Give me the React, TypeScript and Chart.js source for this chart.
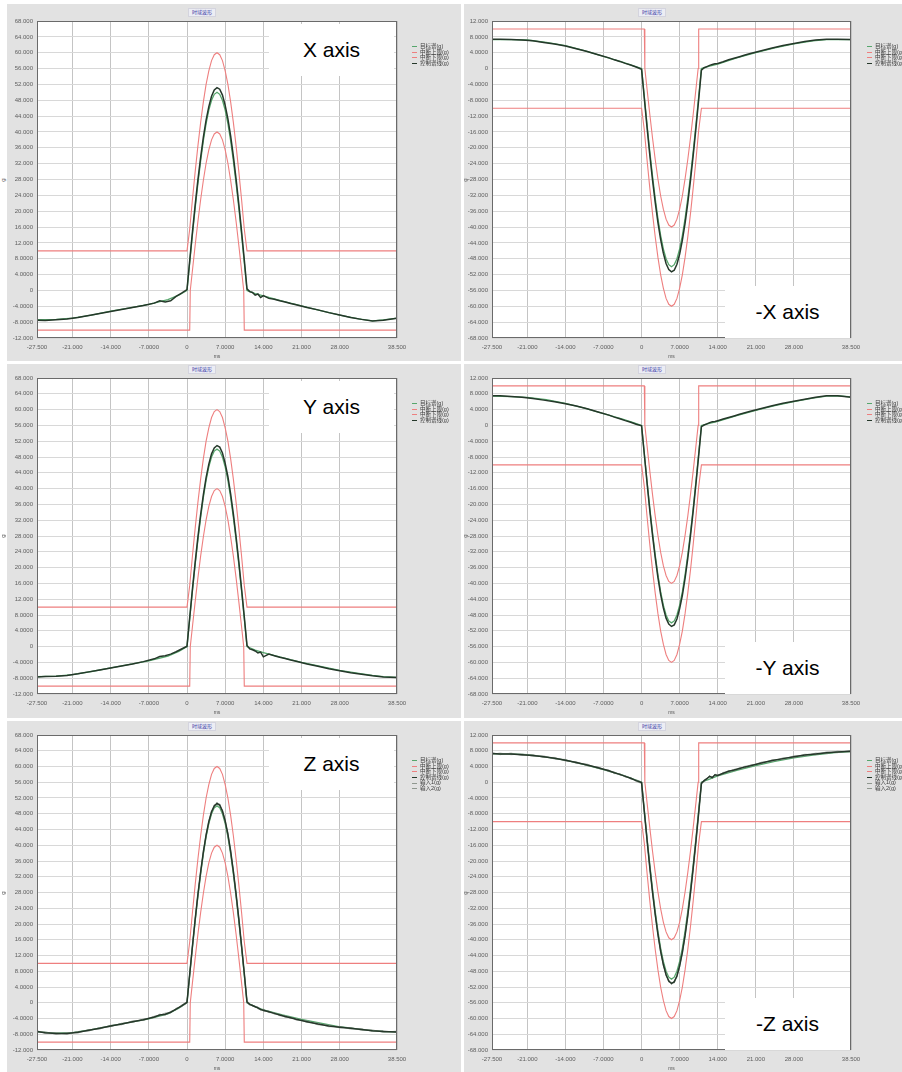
import React, { useEffect, useRef } from "react";
import { Chart, registerables } from "chart.js";
Chart.register(...registerables);

// ---------------- data ----------------
const X_TICKS = [-27.5, -21, -14, -7, 0, 7, 14, 21, 28, 38.5];
const X_TICK_LABELS = ["-27.500", "-21.000", "-14.000", "-7.0000", "0", "7.0000", "14.000", "21.000", "28.000", "38.500"];

const POS_Y_TICKS = [68, 64, 60, 56, 52, 48, 44, 40, 36, 32, 28, 24, 20, 16, 12, 8, 4, 0, -4, -8, -12];
const POS_Y_LABELS = ["68.000", "64.000", "60.000", "56.000", "52.000", "48.000", "44.000", "40.000", "36.000", "32.000", "28.000", "24.000", "20.000", "16.000", "12.000", "8.0000", "4.0000", "0", "-4.0000", "-8.0000", "-12.000"];
const NEG_Y_TICKS = [12, 8, 4, 0, -4, -8, -12, -16, -20, -24, -28, -32, -36, -40, -44, -48, -52, -56, -60, -64, -68];
const NEG_Y_LABELS = ["12.000", "8.0000", "4.0000", "0", "-4.0000", "-8.0000", "-12.000", "-16.000", "-20.000", "-24.000", "-28.000", "-32.000", "-36.000", "-40.000", "-44.000", "-48.000", "-52.000", "-56.000", "-60.000", "-64.000", "-68.000"];

const LEGEND_BASE = ["目标谱(g)", "中断上限(g)", "中断下限(g)", "控制谱线(g)"];
const LEGEND_EXTRA = ["输入1(g)", "输入2(g)"];
const TITLE = "时域波形";

// reference (target) time base, ms
const REF_T = [-27.5, -24, -21, -17.5, -14, -10.5, -7, -3.5, -1.5,
  0, 0.5, 1, 1.5, 2, 2.5, 3, 3.5, 4, 4.5, 5, 5.5, 6, 6.5, 7, 7.5, 8, 8.5, 9, 9.5, 10, 10.5, 11,
  12.5, 14, 17.5, 21, 24.5, 28, 31.5, 34, 36, 38.5];

const REF_X = [-7.4, -7.3, -7.0, -6.2, -5.2, -4.4, -3.5, -2.3, -1.2,
  0, 7.1, 14.1, 20.8, 27.0, 32.7, 37.8, 42.1, 45.5, 48.0, 49.5, 50.0, 49.5, 48.0, 45.5, 42.1, 37.8, 32.7, 27.0, 20.8, 14.1, 7.1, 0,
  -0.8, -1.4, -2.7, -3.9, -5.1, -6.2, -7.2, -7.7, -7.4, -7.0];
const REF_Y = [-7.6, -7.5, -7.1, -6.3, -5.4, -4.5, -3.6, -2.4, -1.2,
  0, 7.1, 14.1, 20.8, 27.0, 32.7, 37.8, 42.1, 45.5, 48.0, 49.5, 50.0, 49.5, 48.0, 45.5, 42.1, 37.8, 32.7, 27.0, 20.8, 14.1, 7.1, 0,
  -0.9, -1.5, -2.8, -4.0, -5.0, -6.0, -6.8, -7.3, -7.6, -7.8];
const REF_Z = [-7.4, -7.7, -7.6, -6.8, -5.9, -5.0, -4.1, -2.8, -1.4,
  0, 7.1, 14.1, 20.8, 27.0, 32.7, 37.8, 42.1, 45.5, 48.0, 49.5, 50.0, 49.5, 48.0, 45.5, 42.1, 37.8, 32.7, 27.0, 20.8, 14.1, 7.1, 0,
  -1.0, -1.8, -3.1, -4.2, -5.2, -6.1, -6.7, -7.1, -7.3, -7.4];
const REF_NX = [7.3, 7.3, 7.2, 6.6, 5.8, 4.5, 3.1, 1.6, 0.7,
  0, -7.1, -14.1, -20.8, -27.0, -32.7, -37.8, -42.1, -45.5, -48.0, -49.5, -50.0, -49.5, -48.0, -45.5, -42.1, -37.8, -32.7, -27.0, -20.8, -14.1, -7.1, 0,
  0.6, 1.1, 2.7, 4.0, 5.2, 6.2, 7.0, 7.3, 7.3, 7.3];
const REF_NY = [7.4, 7.3, 7.1, 6.5, 5.6, 4.4, 3.0, 1.6, 0.7,
  0, -7.1, -14.1, -20.8, -27.0, -32.7, -37.8, -42.1, -45.5, -48.0, -49.5, -50.0, -49.5, -48.0, -45.5, -42.1, -37.8, -32.7, -27.0, -20.8, -14.1, -7.1, 0,
  0.5, 1.0, 2.5, 3.8, 5.0, 6.0, 6.9, 7.4, 7.5, 7.2];
const REF_NZ = [7.2, 7.2, 7.0, 6.4, 5.6, 4.5, 3.2, 1.8, 0.8,
  0, -7.1, -14.1, -20.8, -27.0, -32.7, -37.8, -42.1, -45.5, -48.0, -49.5, -50.0, -49.5, -48.0, -45.5, -42.1, -37.8, -32.7, -27.0, -20.8, -14.1, -7.1, 0,
  0.8, 1.6, 3.0, 4.2, 5.3, 6.2, 6.9, 7.3, 7.6, 7.8];

// measured (control) time base, ms
const CTRL_T = [-27.5, -26, -24, -22, -20, -18, -16, -14, -12, -10, -8, -6, -5, -4, -3, -2, -1,
  0, 0.5, 1, 1.5, 2, 2.5, 3, 3.5, 4, 4.5, 5, 5.5, 6, 6.5, 7, 7.5, 8, 8.5, 9, 9.5, 10, 10.5, 11,
  11.5, 12, 12.5, 13, 13.5, 14, 15, 16, 17, 18, 19, 20, 22, 24, 26, 28, 30, 32, 34, 36, 38.5];

const CTRL_X = [-7.5, -7.6, -7.4, -7.2, -6.8, -6.3, -5.8, -5.3, -4.8, -4.3, -3.8, -3.2, -2.6, -2.9, -2.6, -1.5, -0.7,
  0.2, 7.6, 14.8, 21.6, 27.9, 33.6, 38.7, 43.0, 46.4, 49.0, 50.6, 51.2, 50.8, 49.3, 46.7, 43.3, 39.0, 33.9, 28.1, 21.8, 15.0, 7.8, 0.4,
  -0.3, -0.5, -1.2, -0.9, -1.8, -1.3, -2.0, -2.2, -2.6, -2.9, -3.3, -3.6, -4.3, -4.9, -5.6, -6.2, -6.8, -7.3, -7.7, -7.5, -7.0];
const CTRL_Y = [-7.7, -7.6, -7.5, -7.3, -6.9, -6.4, -5.9, -5.4, -4.9, -4.4, -3.8, -3.1, -2.5, -2.3, -1.9, -1.3, -0.6,
  0.1, 7.4, 14.6, 21.4, 27.7, 33.4, 38.5, 42.8, 46.2, 48.8, 50.3, 50.9, 50.5, 49.0, 46.4, 43.0, 38.7, 33.6, 27.8, 21.5, 14.7, 7.6, 0.3,
  -0.6, -0.8, -1.1, -1.6, -1.4, -2.6, -1.9, -2.3, -2.7, -3.0, -3.4, -3.7, -4.4, -5.0, -5.6, -6.1, -6.6, -7.0, -7.4, -7.7, -7.8];
const CTRL_Z = [-7.3, -7.6, -7.8, -7.8, -7.5, -7.0, -6.5, -5.9, -5.4, -4.8, -4.3, -3.6, -3.1, -2.9, -2.4, -1.6, -0.8,
  0.1, 7.3, 14.4, 21.2, 27.5, 33.2, 38.3, 42.6, 46.0, 48.5, 50.0, 50.6, 50.2, 48.7, 46.2, 42.8, 38.5, 33.4, 27.6, 21.3, 14.5, 7.5, 0.2,
  -0.4, -0.7, -1.0, -1.3, -1.7, -1.9, -2.3, -2.7, -3.1, -3.5, -3.8, -4.2, -4.8, -5.4, -5.9, -6.2, -6.5, -6.8, -7.1, -7.3, -7.4];
const IN1_Z = [-7.1, -7.8, -7.6, -8.0, -7.3, -7.2, -6.3, -6.1, -5.2, -5.0, -4.1, -3.8, -2.9, -3.2, -2.2, -1.8, -0.6,
  0.3, 7.0, 14.7, 20.9, 27.8, 32.9, 38.6, 42.3, 46.3, 48.2, 50.3, 50.3, 50.5, 48.4, 46.5, 42.5, 38.8, 33.1, 27.9, 21.0, 14.8, 7.2, 0.5,
  -0.2, -0.9, -0.8, -1.6, -1.5, -2.2, -2.1, -2.9, -2.9, -3.7, -3.6, -4.4, -4.6, -5.6, -5.7, -6.4, -6.3, -7.0, -6.9, -7.5, -7.2];
const IN2_Z = [-7.5, -7.4, -8.0, -7.6, -7.7, -6.8, -6.7, -5.7, -5.6, -4.6, -4.5, -3.4, -3.3, -2.6, -2.6, -1.4, -1.0,
  -0.1, 7.6, 14.1, 21.5, 27.2, 33.5, 38.0, 42.9, 45.7, 48.8, 49.7, 50.9, 49.9, 49.0, 45.9, 43.1, 38.2, 33.7, 27.3, 21.6, 14.2, 7.8, -0.1,
  -0.6, -0.5, -1.2, -1.0, -1.9, -1.6, -2.5, -2.5, -3.3, -3.3, -4.0, -4.0, -5.0, -5.2, -6.1, -6.0, -6.7, -6.6, -7.3, -7.1, -7.6];

const CTRL_NX = [7.4, 7.4, 7.3, 7.2, 7.0, 6.6, 6.2, 5.7, 5.0, 4.3, 3.5, 2.7, 2.2, 1.8, 1.3, 0.9, 0.4,
  -0.2, -7.5, -14.8, -21.7, -28.0, -33.7, -38.8, -43.1, -46.6, -49.2, -50.7, -51.3, -50.9, -49.4, -46.8, -43.3, -39.0, -33.9, -28.1, -21.8, -15.0, -7.8, -0.4,
  0.2, 0.5, 0.8, 1.0, 1.2, 1.3, 1.7, 2.2, 2.6, 3.0, 3.4, 3.8, 4.5, 5.2, 5.8, 6.3, 6.8, 7.2, 7.4, 7.4, 7.3];
const CTRL_NY = [7.5, 7.5, 7.3, 7.1, 6.8, 6.4, 6.0, 5.5, 4.9, 4.2, 3.4, 2.6, 2.1, 1.7, 1.2, 0.8, 0.3,
  -0.1, -7.3, -14.5, -21.4, -27.7, -33.4, -38.5, -42.8, -46.2, -48.8, -50.3, -50.9, -50.5, -49.0, -46.4, -43.0, -38.7, -33.6, -27.8, -21.5, -14.7, -7.6, -0.3,
  0.1, 0.4, 0.7, 0.9, 1.0, 1.2, 1.6, 2.0, 2.4, 2.8, 3.2, 3.6, 4.3, 5.0, 5.6, 6.1, 6.6, 7.1, 7.5, 7.5, 7.1];
const CTRL_NZ = [7.3, 7.2, 7.2, 7.0, 6.8, 6.5, 6.1, 5.6, 5.0, 4.4, 3.7, 2.9, 2.4, 2.0, 1.5, 1.0, 0.4,
  -0.1, -7.4, -14.6, -21.5, -27.8, -33.5, -38.6, -42.9, -46.3, -48.9, -50.5, -51.1, -50.7, -49.2, -46.6, -43.2, -38.9, -33.8, -28.0, -21.7, -14.9, -7.7, -0.3,
  0.4, 0.9, 1.5, 1.2, 1.9, 1.7, 2.3, 2.8, 3.1, 3.5, 3.9, 4.2, 4.9, 5.5, 6.0, 6.5, 6.9, 7.2, 7.5, 7.7, 7.9];
const IN1_NZ = [7.1, 7.4, 7.0, 7.2, 6.6, 6.7, 5.9, 5.8, 4.8, 4.6, 3.5, 3.1, 2.2, 2.2, 1.3, 1.2, 0.2,
  -0.3, -7.1, -14.9, -21.2, -28.1, -33.2, -38.9, -42.6, -46.6, -48.6, -50.8, -50.8, -51.0, -48.9, -46.9, -42.9, -39.2, -33.5, -28.3, -21.4, -15.2, -7.4, -0.5,
  0.6, 0.7, 1.7, 1.0, 2.1, 1.5, 2.5, 2.6, 3.3, 3.3, 4.1, 4.0, 5.1, 5.3, 6.2, 6.3, 7.1, 7.0, 7.7, 7.5, 8.1];
const IN2_NZ = [7.5, 7.0, 7.4, 6.8, 7.0, 6.3, 6.3, 5.4, 5.2, 4.2, 3.9, 2.7, 2.6, 1.8, 1.7, 0.8, 0.6,
  0.1, -7.7, -14.3, -21.8, -27.5, -33.8, -38.3, -43.2, -46.0, -49.2, -50.2, -51.4, -50.4, -49.5, -46.3, -43.5, -38.6, -34.1, -27.7, -22.0, -14.6, -8.0, -0.1,
  0.2, 1.1, 1.3, 1.4, 1.7, 1.9, 2.1, 3.0, 2.9, 3.7, 3.7, 4.4, 4.7, 5.7, 5.8, 6.7, 6.7, 7.4, 7.3, 7.9, 7.7];

// tolerance limits
const WIDE_T = [-27.5, 0, 0.5, 1, 1.5, 2, 2.5, 3, 3.5, 4, 4.5, 5, 5.5, 6, 6.5, 7, 7.5, 8, 8.5, 9, 9.5, 10, 10.5, 11, 38.5];
const NARROW_T = [-27.5, 0.5, 0.6, 1, 1.5, 2, 2.5, 3, 3.5, 4, 4.5, 5, 5.5, 6, 6.5, 7, 7.5, 8, 8.5, 9, 9.5, 10, 10.4, 10.5, 38.5];
const POS_UPPER = [10, 10, 15.5, 23.0, 30.0, 36.5, 42.4, 47.6, 52.0, 55.4, 58.0, 59.5, 60, 59.5, 58.0, 55.4, 52.0, 47.6, 42.4, 36.5, 30.0, 23.0, 15.5, 10, 10];
const POS_LOWER = [-10, -10, 0, 5.1, 11.4, 17.4, 22.9, 27.8, 32.1, 35.5, 38.0, 39.5, 40, 39.5, 38.0, 35.5, 32.1, 27.8, 22.9, 17.4, 11.4, 5.1, 0, -10, -10];
const NEG_UPPER = [10, 10, 0, -5.1, -11.4, -17.4, -22.9, -27.8, -32.1, -35.5, -38.0, -39.5, -40, -39.5, -38.0, -35.5, -32.1, -27.8, -22.9, -17.4, -11.4, -5.1, 0, 10, 10];
const NEG_LOWER = [-10, -10, -15.5, -23.0, -30.0, -36.5, -42.4, -47.6, -52.0, -55.4, -58.0, -59.5, -60, -59.5, -58.0, -55.4, -52.0, -47.6, -42.4, -36.5, -30.0, -23.0, -15.5, -10, -10];

// ---------------- styles / layout ----------------
const FONT = '"Liberation Sans", Arial, "Noto Sans CJK SC", sans-serif';
const PANEL_BG = "#e2e2e2";
const GREEN = "#56a66c";
const RED = "#ee7f7f";
const DARK = "#25382a";
const GRAY_IN = "#8f978f";
const TICK_COLOR = "#5e5e5e";

const COLS = [
  { x0: 7, x1: 461, l: 37, r: 397, title: 202, legend: 412 },
  { x0: 464, x1: 902, l: 492, r: 851, title: 652, legend: 867 },
];
const ROWS = [
  { y0: 4, y1: 361, t: 21, b: 338 },
  { y0: 364, y1: 718, t: 378, b: 694 },
  { y0: 721, y1: 1072, t: 735, b: 1050 },
];

type PanelDef = {
  row: number; col: number; neg: boolean;
  ref: number[]; ctrl: number[]; extra: number[][];
  tag: string;
};

const PANELS: PanelDef[] = [
  { row: 0, col: 0, neg: false, ref: REF_X, ctrl: CTRL_X, extra: [], tag: "X axis" },
  { row: 0, col: 1, neg: true, ref: REF_NX, ctrl: CTRL_NX, extra: [], tag: "-X axis" },
  { row: 1, col: 0, neg: false, ref: REF_Y, ctrl: CTRL_Y, extra: [], tag: "Y axis" },
  { row: 1, col: 1, neg: true, ref: REF_NY, ctrl: CTRL_NY, extra: [], tag: "-Y axis" },
  { row: 2, col: 0, neg: false, ref: REF_Z, ctrl: CTRL_Z, extra: [IN1_Z, IN2_Z], tag: "Z axis" },
  { row: 2, col: 1, neg: true, ref: REF_NZ, ctrl: CTRL_NZ, extra: [IN1_NZ, IN2_NZ], tag: "-Z axis" },
];

const pts = (xs: number[], ys: number[]) => xs.map((x, i) => ({ x, y: ys[i] }));

const framePlugin = {
  id: "frame",
  beforeDraw(chart: any) {
    const { ctx, chartArea: a } = chart;
    ctx.save();
    ctx.fillStyle = PANEL_BG;
    ctx.fillRect(0, 0, chart.width, chart.height);
    ctx.fillStyle = "#ffffff";
    ctx.fillRect(a.left, a.top, a.right - a.left, a.bottom - a.top);
    ctx.restore();
  },
  afterDraw(chart: any) {
    const { ctx, chartArea: a } = chart;
    ctx.save();
    ctx.strokeStyle = "#6a6a6a";
    ctx.lineWidth = 1;
    ctx.strokeRect(Math.round(a.left) + 0.5, Math.round(a.top) + 0.5, Math.round(a.right - a.left) - 1, Math.round(a.bottom - a.top) - 1);
    ctx.restore();
  },
};

function ShockPanel({ p }: { p: PanelDef }) {
  const canvasRef = useRef<HTMLCanvasElement>(null);
  const C = COLS[p.col];
  const R = ROWS[p.row];
  const w = C.x1 - C.x0;
  const h = R.y1 - R.y0;

  useEffect(() => {
    const yTicks = p.neg ? NEG_Y_TICKS : POS_Y_TICKS;
    const yLabels = p.neg ? NEG_Y_LABELS : POS_Y_LABELS;
    const upper = p.neg ? pts(NARROW_T, NEG_UPPER) : pts(WIDE_T, POS_UPPER);
    const lower = p.neg ? pts(WIDE_T, NEG_LOWER) : pts(NARROW_T, POS_LOWER);
    const datasets: any[] = [
      { label: LEGEND_BASE[0], data: pts(REF_T, p.ref), borderColor: GREEN, borderWidth: 1.3, order: 3 },
      { label: LEGEND_BASE[1], data: upper, borderColor: RED, borderWidth: 1.1, order: 4 },
      { label: LEGEND_BASE[2], data: lower, borderColor: RED, borderWidth: 1.1, order: 4 },
      { label: LEGEND_BASE[3], data: pts(CTRL_T, p.ctrl), borderColor: DARK, borderWidth: 1.5, order: 1 },
    ];
    p.extra.forEach((ys, i) => {
      datasets.push({ label: LEGEND_EXTRA[i], data: pts(CTRL_T, ys), borderColor: GRAY_IN, borderWidth: 0.8, order: 2 });
    });
    const tickFont = { family: FONT, size: 6 };
    const chart = new Chart(canvasRef.current as HTMLCanvasElement, {
      type: "line",
      data: { datasets },
      options: {
        animation: false,
        responsive: false,
        maintainAspectRatio: false,
        events: [],
        elements: { point: { radius: 0 }, line: { tension: 0 } },
        layout: { padding: { left: 0, top: R.t - R.y0, right: C.x1 - C.r, bottom: 0 } },
        plugins: { legend: { display: false }, title: { display: false }, tooltip: { enabled: false } },
        scales: {
          x: {
            type: "linear",
            min: -27.5,
            max: 38.5,
            afterBuildTicks: (s: any) => { s.ticks = X_TICKS.map((v) => ({ value: v })); },
            afterFit: (s: any) => { s.height = R.y1 - R.b; s.paddingLeft = 0; s.paddingRight = 0; },
            ticks: {
              autoSkip: false, maxRotation: 0, padding: 6, color: TICK_COLOR, font: tickFont,
              callback: (v: any) => X_TICK_LABELS[X_TICKS.indexOf(Number(v))],
            },
            grid: { color: "#c4c4c4", drawTicks: false, lineWidth: 1 },
            border: { display: false },
          },
          y: {
            type: "linear",
            min: p.neg ? -68 : -12,
            max: p.neg ? 12 : 68,
            afterBuildTicks: (s: any) => { s.ticks = yTicks.map((v) => ({ value: v })); },
            afterFit: (s: any) => { s.width = C.l - C.x0; s.paddingTop = 0; s.paddingBottom = 0; },
            ticks: {
              autoSkip: false, padding: 4, color: TICK_COLOR, font: tickFont,
              callback: (v: any) => yLabels[yTicks.indexOf(Number(v))],
            },
            grid: { color: "#d8d8d8", drawTicks: false, lineWidth: 1 },
            border: { display: false },
          },
        },
      },
      plugins: [framePlugin],
    });
    return () => chart.destroy();
  }, []);

  const legendItems = p.extra.length ? LEGEND_BASE.concat(LEGEND_EXTRA) : LEGEND_BASE;
  const legendColors = [GREEN, RED, RED, DARK, GRAY_IN, GRAY_IN];
  const tagTop = p.col === 0 ? R.t + 3 : R.b - 52;
  const tagLeft = p.col === 0 ? 269 : 725;

  return (
    <>
      <div style={{ position: "absolute", left: C.x0, top: R.y0, width: w, height: h, background: PANEL_BG }}>
        <canvas ref={canvasRef} width={w} height={h} style={{ display: "block", width: w, height: h }} />
      </div>
      {/* chart title */}
      <div style={{
        position: "absolute", left: C.title - 14, top: R.t - 13, width: 28, height: 9,
        background: "#ecedf4", border: "1px solid #d4d4de", boxSizing: "border-box",
        color: "#3b3ba6", fontSize: 5, lineHeight: "7px", textAlign: "center", fontFamily: FONT,
      }}>{TITLE}</div>
      {/* axis unit labels */}
      <div style={{ position: "absolute", left: (C.l + C.r) / 2 - 10, top: R.b + 15, width: 20, textAlign: "center", fontSize: 5, color: "#555", fontFamily: FONT, lineHeight: "6px" }}>ms</div>
      <div style={{ position: "absolute", left: p.col === 0 ? 0 : C.x0 - 2, top: (R.t + R.b) / 2 - 4, width: 6, height: 8, fontSize: 6, color: "#555", fontFamily: FONT, lineHeight: "8px", transform: "rotate(-90deg)", textAlign: "center" }}>g</div>
      {/* legend */}
      <div style={{ position: "absolute", left: C.legend, top: R.t + 23, fontFamily: FONT }}>
        {legendItems.map((t, i) => (
          <div key={i} style={{ display: "flex", alignItems: "center", height: 5.6 }}>
            <span style={{ display: "inline-block", width: 5, height: 1, background: legendColors[i], marginRight: 3 }} />
            <span style={{ fontSize: 5.5, lineHeight: "5.6px", color: "#3a3a3a", whiteSpace: "nowrap" }}>{t}</span>
          </div>
        ))}
      </div>
      {/* axis tag box */}
      <div style={{
        position: "absolute", left: tagLeft, top: tagTop, width: 125, height: 52, background: "#ffffff",
        display: "flex", alignItems: "center", justifyContent: "center",
        fontFamily: FONT, fontSize: 21, color: "#000",
      }}>{p.tag}</div>
    </>
  );
}

export default function App() {
  return (
    <div style={{ position: "absolute", left: 0, top: 0, width: 902, height: 1072, background: "#ffffff", overflow: "hidden" }}>
      {PANELS.map((p, i) => <ShockPanel key={i} p={p} />)}
    </div>
  );
}
